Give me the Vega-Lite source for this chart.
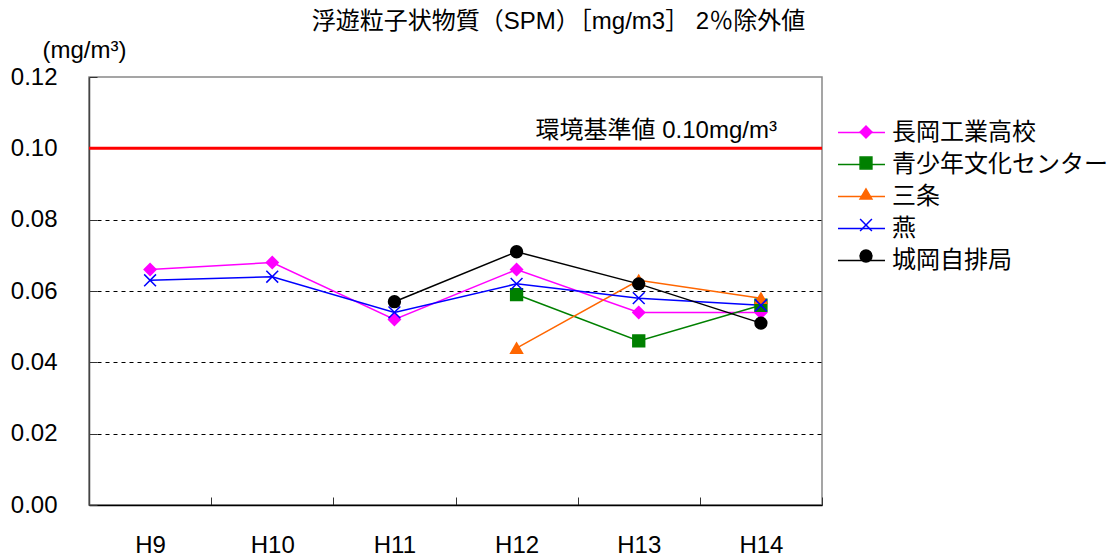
{
  "$schema": "https://vega.github.io/schema/vega-lite/v6.json",
  "width": 733,
  "height": 428,
  "autosize": {"type": "none"},
  "padding": {"left": 89, "top": 77, "right": 295, "bottom": 51},
  "background": "white",
  "title": {
    "text": "浮遊粒子状物質（SPM）［mg/m3］ 2％除外値",
    "anchor": "middle",
    "frame": "group",
    "dx": 103,
    "offset": 4,
    "fontSize": 24,
    "fontWeight": "normal",
    "color": "black"
  },
  "config": {
    "font": "Liberation Sans, Noto Sans CJK JP, sans-serif",
    "view": {"stroke": "#888888", "strokeWidth": 1.5},
    "axis": {"labelColor": "black", "titleColor": "black", "tickColor": "#333333"},
    "legend": {"labelFontSize": 24, "labelColor": "black", "rowPadding": 7, "padding": 0, "labelLimit": 400}
  },
  "datasets": {
    "spm": [
      {"year": "H9", "site": "長岡工業高校", "value": 0.066},
      {"year": "H10", "site": "長岡工業高校", "value": 0.068},
      {"year": "H11", "site": "長岡工業高校", "value": 0.052},
      {"year": "H12", "site": "長岡工業高校", "value": 0.066},
      {"year": "H13", "site": "長岡工業高校", "value": 0.054},
      {"year": "H14", "site": "長岡工業高校", "value": 0.054},
      {"year": "H12", "site": "青少年文化センター", "value": 0.059},
      {"year": "H13", "site": "青少年文化センター", "value": 0.046},
      {"year": "H14", "site": "青少年文化センター", "value": 0.056},
      {"year": "H12", "site": "三条", "value": 0.044},
      {"year": "H13", "site": "三条", "value": 0.063},
      {"year": "H14", "site": "三条", "value": 0.058},
      {"year": "H9", "site": "燕", "value": 0.063},
      {"year": "H10", "site": "燕", "value": 0.064},
      {"year": "H11", "site": "燕", "value": 0.054},
      {"year": "H12", "site": "燕", "value": 0.062},
      {"year": "H13", "site": "燕", "value": 0.058},
      {"year": "H14", "site": "燕", "value": 0.056},
      {"year": "H11", "site": "城岡自排局", "value": 0.057},
      {"year": "H12", "site": "城岡自排局", "value": 0.071},
      {"year": "H13", "site": "城岡自排局", "value": 0.062},
      {"year": "H14", "site": "城岡自排局", "value": 0.051}
    ],
    "standard": [
      {"year": "H14", "site": "環境基準値", "value": 0.1, "label": "環境基準値 0.10mg/m³"}
    ]
  },
  "data": {"name": "spm"},
  "encoding": {
    "x": {
      "field": "year",
      "type": "ordinal",
      "scale": {"type": "band", "domain": ["H9", "H10", "H11", "H12", "H13", "H14"], "paddingInner": 0, "paddingOuter": 0},
      "axis": {
        "title": null,
        "labelAngle": 0,
        "labelFontSize": 24,
        "labelPadding": 36,
        "tickSize": -8,
        "tickBand": "extent",
        "domainColor": "black",
        "domainWidth": 1.5,
        "grid": false
      }
    },
    "y": {
      "field": "value",
      "type": "quantitative",
      "scale": {"domain": [0, 0.12], "nice": false, "zero": true},
      "axis": {
        "title": "(mg/m³)",
        "titleAngle": 0,
        "titleX": -5,
        "titleY": -27,
        "titleAlign": "center",
        "titleBaseline": "middle",
        "titleFontSize": 24,
        "titleFontWeight": "normal",
        "values": [0, 0.02, 0.04, 0.06, 0.08, 0.1, 0.12],
        "format": ".2f",
        "labelFontSize": 24,
        "labelPadding": 40,
        "tickSize": -8,
        "grid": true,
        "gridDash": [4, 4],
        "gridColor": {"condition": {"test": "datum.value == 0 || datum.value >= 0.119", "value": "transparent"}, "value": "black"},
        "domainColor": "#444444",
        "domainWidth": 1.5
      }
    }
  },
  "layer": [
    {
      "data": {"name": "standard"},
      "mark": {"type": "rule", "strokeWidth": 3},
      "encoding": {
        "x": null,
        "color": {"field": "site", "type": "nominal"}
      }
    },
    {
      "mark": {"type": "line", "strokeWidth": 1.5},
      "encoding": {
        "color": {
          "field": "site",
          "type": "nominal",
          "scale": {
            "domain": ["長岡工業高校", "青少年文化センター", "三条", "燕", "城岡自排局", "環境基準値"],
            "range": ["#ff00ff", "#008000", "#ff6600", "#0000ff", "#000000", "#ff0000"]
          },
          "legend": {
            "title": null,
            "values": ["長岡工業高校", "青少年文化センター", "三条", "燕", "城岡自排局"],
            "orient": "none",
            "legendX": 760,
            "legendY": 43,
            "symbolType": "M-2,0L2,0",
            "symbolSize": 552,
            "symbolStrokeWidth": 1.5,
            "labelOffset": 18,
            "rowPadding": 7
          }
        }
      }
    },
    {
      "mark": {"type": "point", "filled": true, "size": 140, "strokeWidth": 1.5, "opacity": 1},
      "encoding": {
        "shape": {
          "field": "site",
          "type": "nominal",
          "scale": {
            "domain": ["長岡工業高校", "青少年文化センター", "三条", "燕", "城岡自排局"],
            "range": ["diamond", "square", "triangle-up", "M-1,-1L1,1M-1,1L1,-1", "circle"]
          },
          "legend": {"title": null, "orient": "none", "legendX": 765, "legendY": 43, "labelExpr": "''", "symbolSize": 140, "symbolStrokeWidth": 1.5}
        },
        "fill": {
          "field": "site",
          "type": "nominal",
          "scale": {
            "domain": ["長岡工業高校", "青少年文化センター", "三条", "燕", "城岡自排局"],
            "range": ["#ff00ff", "#008000", "#ff6600", "#0000ff", "#000000"]
          },
          "legend": {"title": null, "orient": "none", "legendX": 765, "legendY": 43, "labelExpr": "''", "symbolSize": 140, "symbolStrokeWidth": 1.5}
        },
        "stroke": {
          "field": "site",
          "type": "nominal",
          "scale": {
            "domain": ["長岡工業高校", "青少年文化センター", "三条", "燕", "城岡自排局"],
            "range": ["#ff00ff", "#008000", "#ff6600", "#0000ff", "#000000"]
          },
          "legend": {"title": null, "orient": "none", "legendX": 765, "legendY": 43, "labelExpr": "''", "symbolSize": 140, "symbolStrokeWidth": 1.5}
        }
      }
    },
    {
      "data": {"name": "standard"},
      "mark": {"type": "text", "align": "right", "baseline": "middle", "dx": 16, "dy": -17, "fontSize": 24, "color": "black"},
      "encoding": {
        "text": {"field": "label"}
      }
    }
  ]
}
